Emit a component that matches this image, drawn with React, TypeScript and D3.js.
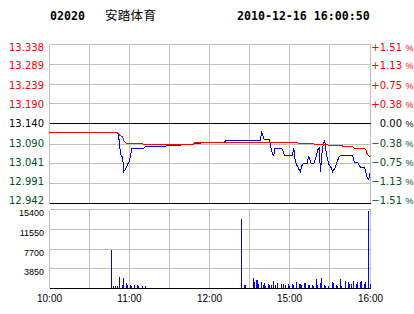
import React from 'react';
import * as d3 from 'd3';

const stockCode = '02020';
const stockName = '安踏体育';
const timestamp = '2010-12-16 16:00:50';
const prevClose = 13.14;
const priceTicks = [13.338, 13.289, 13.239, 13.19, 13.14, 13.09, 13.041, 12.991, 12.942];
const priceTickLabels = ['13.338', '13.289', '13.239', '13.190', '13.140', '13.090', '13.041', '12.991', '12.942'];
const pctTickLabels = ['+1.51', '+1.13', '+0.75', '+0.38', '0.00', '−0.38', '−0.75', '−1.13', '−1.51'];
const volumeTicks = [3850, 7700, 11550, 15400];
const volumeMax = 15400;
const timeLabels = ['10:00', '11:00', '12:00', '15:00', '16:00'];
const timeLabelMinutes = [0, 60, 120, 180, 240];
const gridMinutes = [30, 60, 90, 120, 150, 180, 210];

// minutes since 10:00 (trading minutes, lunch break removed)
const priceMinutes = [
  0, 51, 52, 53, 54, 55, 56, 57, 58, 59, 60, 61, 62, 71, 72, 80, 81, 87, 88, 98, 99, 103, 104, 108,
  109, 113, 114, 122, 123, 131, 132, 140, 141, 158, 159, 160, 161, 165, 166, 167, 168, 169, 174, 175,
  176, 182, 183, 184, 185, 186, 187, 188, 189, 190, 193, 194, 195, 196, 198, 199, 200, 201, 202, 203,
  204, 205, 206, 207, 208, 209, 210, 211, 212, 213, 214, 215, 216, 217, 218, 227, 228, 229, 231, 232,
  233, 236, 237, 238, 239, 240,
];
const priceValues = [
  13.12, 13.12, 13.113, 13.08, 13.059, 13.059, 13.022, 13.026, 13.034, 13.041, 13.047, 13.061, 13.08,
  13.08, 13.083, 13.083, 13.085, 13.085, 13.086, 13.086, 13.088, 13.088, 13.09, 13.09, 13.092, 13.092,
  13.093, 13.093, 13.095, 13.095, 13.098, 13.098, 13.1, 13.1, 13.119, 13.11, 13.101, 13.101, 13.081,
  13.066, 13.061, 13.08, 13.08, 13.073, 13.061, 13.061, 13.08, 13.051, 13.039, 13.034, 13.026, 13.021,
  13.036, 13.041, 13.041, 13.059, 13.053, 13.041, 13.041, 13.051, 13.061, 13.076, 13.08, 13.021,
  13.066, 13.088, 13.101, 13.076, 13.056, 13.041, 13.036, 13.031, 13.021, 13.026, 13.032, 13.043,
  13.051, 13.059, 13.061, 13.061, 13.049, 13.043, 13.043, 13.036, 13.032, 13.032, 13.018, 13.006,
  13.001, 13.018,
];

const avgMinutes = [
  0, 51, 52, 53, 55, 56, 58, 70, 71, 84, 85, 108, 109, 143, 144, 165, 166, 186, 187, 197, 198, 208,
  209, 219, 220, 227, 228, 235, 237, 238, 240,
];
const avgValues = [
  13.12, 13.12, 13.116, 13.111, 13.108, 13.098, 13.092, 13.091, 13.088, 13.088, 13.09, 13.09, 13.093,
  13.093, 13.094, 13.094, 13.093, 13.093, 13.091, 13.091, 13.09, 13.09, 13.087, 13.087, 13.083, 13.083,
  13.08, 13.08, 13.076, 13.064, 13.059,
];

const volMinutes = [
  47, 48, 50, 51, 53, 55, 56, 58, 59, 61, 62, 64, 66, 67, 70, 72,
  144, 146, 147, 153, 154, 155, 156, 157, 159, 160, 161, 162, 164, 165, 166, 168, 169, 171, 174, 175,
  177, 179, 180, 182, 183, 185, 187, 188, 189, 191, 192, 194, 195, 197, 198, 200, 201, 203, 204, 206,
  207, 209, 212, 213, 215, 216, 218, 219, 222, 224, 225, 226, 228, 230, 231, 233, 234, 236, 237, 239,
  240,
];
const volValues = [
  7470, 450, 450, 450, 2200, 650, 2000, 1100, 650, 650, 450, 650, 650, 450, 450, 450,
  13500, 650, 650, 1950, 1300, 1560, 1620, 780, 1170, 650, 975, 520, 780, 600, 650, 1430, 650, 1040,
  780, 780, 650, 780, 450, 780, 600, 1230, 780, 850, 650, 975, 975, 650, 650, 650, 520, 1820, 650, 1100,
  2000, 650, 520, 520, 1230, 975, 650, 520, 1820, 520, 1430, 1170, 900, 900, 1430, 780, 1230, 1300,
  1430, 780, 1300, 15070, 780,
];

const GRAY = '#c0c0c0';
const RED = '#ff0000';
const GREEN = '#005020';
const BLUE = '#0000ff';
const LABEL_FONT = '"DejaVu Sans", sans-serif';
const SMALL_FONT = '"Liberation Sans", Arial, sans-serif';
const MONO = '"DejaVu Sans Mono", monospace';

const crisp = (y: number) => Math.round(y - 0.5) + 0.5;

export default function App() {
  const W = 414;
  const H = 314;
  const x = d3.scaleLinear().domain([0, 240]).range([49, 370]);
  const y = d3
    .scaleLinear()
    .domain([priceTicks[priceTicks.length - 1], priceTicks[0]])
    .range([203.5, 44.5]);
  const v = d3.scaleLinear().domain([0, volumeMax]).range([288.5, 209.5]);

  const left = 49.5;
  const right = 370.5;
  const pTop = crisp(y(priceTicks[0]));
  const pBot = crisp(y(priceTicks[priceTicks.length - 1]));
  const vTop = crisp(v(volumeMax));
  const vBot = crisp(v(0));

  const priceLine = d3
    .line<number>()
    .x((_, i) => x(priceMinutes[i]))
    .y((d) => y(d));
  const avgLine = d3
    .line<number>()
    .x((_, i) => x(avgMinutes[i]))
    .y((d) => y(d));

  const colorFor = (i: number) => (i < 4 ? RED : i === 4 ? '#000000' : GREEN);

  return (
    <svg
      width={W}
      height={H}
      style={{ position: 'absolute', left: 0, top: 0, background: '#ffffff' }}
    >
      <rect x={0} y={0} width={W} height={H} fill="#ffffff" />
      {/* header */}
      <text x={50} y={20} fontFamily={MONO} fontWeight="bold" fontSize={11.6} fill="#000">
        {stockCode}
      </text>
      <text x={105} y={19.5} fontFamily='"Noto Sans CJK SC", sans-serif' fontSize={12.5} letterSpacing={0.3} fill="#000">
        {stockName}
      </text>
      <text x={237} y={20} fontFamily={MONO} fontWeight="bold" fontSize={11.6} fill="#000">
        {timestamp}
      </text>

      <g shapeRendering="crispEdges">
        {/* price panel grid */}
        {priceTicks.map((t, i) =>
          i === 4 || i === 8 ? null : (
            <line key={'pg' + i} x1={left} x2={right} y1={crisp(y(t))} y2={crisp(y(t))} stroke={GRAY} />
          )
        )}
        {gridMinutes.map((m) => (
          <line key={'pv' + m} x1={Math.floor(x(m)) + 0.5} x2={Math.floor(x(m)) + 0.5} y1={pTop} y2={pBot} stroke={GRAY} />
        ))}
        <line x1={left} x2={left} y1={pTop} y2={pBot} stroke={GRAY} />
        <line x1={right} x2={right} y1={pTop} y2={pBot} stroke={GRAY} />

        {/* volume panel grid */}
        {volumeTicks.map((t) => (
          <line key={'vg' + t} x1={left} x2={right} y1={crisp(v(t))} y2={crisp(v(t))} stroke={GRAY} />
        ))}
        {gridMinutes.map((m) => (
          <line key={'vv' + m} x1={Math.floor(x(m)) + 0.5} x2={Math.floor(x(m)) + 0.5} y1={vTop} y2={vBot} stroke={GRAY} />
        ))}
        <line x1={left} x2={left} y1={vTop} y2={vBot} stroke={GRAY} />
        <line x1={right} x2={right} y1={vTop} y2={vBot} stroke={GRAY} />

        {/* black reference lines */}
        <line x1={left} x2={right} y1={crisp(y(prevClose))} y2={crisp(y(prevClose))} stroke="#000" />
        <line x1={left} x2={right} y1={pBot} y2={pBot} stroke="#000" />

        {/* volume bars */}
        {volValues.map((val, i) => {
          const top = v(val);
          return (
            <rect
              key={'b' + i}
              x={Math.floor(x(volMinutes[i]))}
              y={top}
              width={1}
              height={vBot - 0.5 - top}
              fill={BLUE}
            />
          );
        })}
        <line x1={left} x2={right} y1={vBot} y2={vBot} stroke="#000" />

        {/* price and average lines */}
        <path d={priceLine(priceValues) || ''} fill="none" stroke={BLUE} strokeWidth={1} />
        <path d={avgLine(avgValues) || ''} fill="none" stroke={RED} strokeWidth={1} />
      </g>

      {/* left price labels */}
      {priceTicks.map((t, i) => (
        <text
          key={'pl' + i}
          x={44}
          y={y(t) + 6 - i * 0.675}
          textAnchor="end"
          fontFamily={LABEL_FONT}
          fontSize={10}
          fill={colorFor(i)}
        >
          {priceTickLabels[i]}
        </text>
      ))}
      {/* right percent labels */}
      {priceTicks.map((t, i) => (
        <g key={'rl' + i}>
          <text
            x={402}
            y={y(t) + 6 - i * 0.675}
            textAnchor="end"
            fontFamily={LABEL_FONT}
            fontSize={10}
            fill={colorFor(i)}
          >
            {pctTickLabels[i]}
          </text>
          <text
            x={405.5}
            y={y(t) + 6 - i * 0.675}
            fontFamily={SMALL_FONT}
            fontSize={9}
            fill={colorFor(i)}
          >
            %
          </text>
        </g>
      ))}
      {/* volume labels */}
      {volumeTicks.map((t) => (
        <text
          key={'vl' + t}
          x={44}
          y={crisp(v(t)) + 6.5}
          textAnchor="end"
          fontFamily={SMALL_FONT}
          fontSize={9}
          fill="#000"
        >
          {String(t)}
        </text>
      ))}
      {/* time labels */}
      {timeLabels.map((lab, i) => (
        <text
          key={'tl' + lab}
          x={Math.floor(x(timeLabelMinutes[i])) + 0.5}
          y={302}
          textAnchor="middle"
          fontFamily={SMALL_FONT}
          fontSize={10}
          fill="#000"
        >
          {lab}
        </text>
      ))}
    </svg>
  );
}
